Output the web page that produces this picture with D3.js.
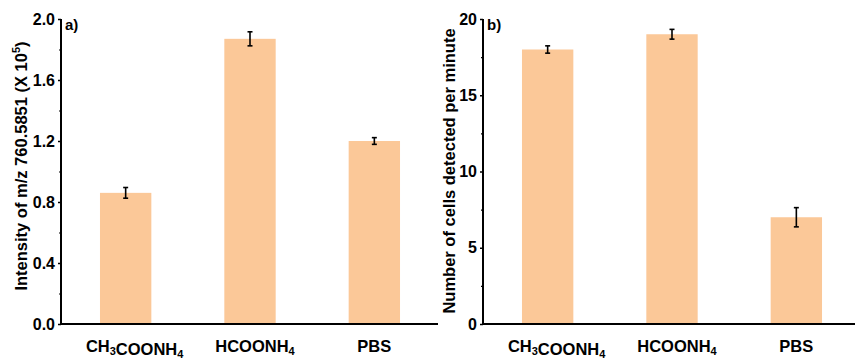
<!DOCTYPE html>
<html>
<head>
<meta charset="utf-8">
<script src="https://cdn.jsdelivr.net/npm/d3@7"></script>
<style>
  html, body { margin: 0; padding: 0; background: #fff; }
  svg { display: block; font-family: "Liberation Sans", Arial, sans-serif; }
</style>
</head>
<body>
<svg id="chart" width="855" height="359"></svg>
<script>
// ---- data ----
const categories = ["CH3COONH4", "HCOONH4", "PBS"];
const intensityValues = [0.86, 1.87, 1.20];
const intensityErrors = [0.035, 0.046, 0.022];
const cellValues = [18.0, 19.0, 7.0];
const cellErrors = [0.24, 0.32, 0.63];
const intensityTicks = [0.0, 0.4, 0.8, 1.2, 1.6, 2.0];
const intensityMinorTicks = [0.2, 0.6, 1.0, 1.4, 1.8];
const cellTicks = [0, 5, 10, 15, 20];
const cellMinorTicks = [2.5, 7.5, 12.5, 17.5];

const svg = d3.select("#chart");
const barColor = "#FBC898";
const plotTop = 19, plotBottom = 324;
const labelShift = [9, 5, 0];

function label(sel, name) {
  // write chemical names with subscripts
  const parts = name.match(/[A-Za-z]+|\d+/g);
  parts.forEach(p => {
    if (/^\d+$/.test(p)) {
      sel.append("tspan").attr("font-size", 11).attr("dy", 3).text(p);
      sel.append("tspan").attr("dy", -3).text("");
    } else {
      sel.append("tspan").text(p);
    }
  });
}

function panel(cfg) {
  const g = svg.append("g");
  const y = d3.scaleLinear().domain(cfg.domain).range([plotBottom, plotTop]);
  const x = d3.scaleBand().domain(categories)
    .range([cfg.x0, cfg.x0 + 378])
    .paddingInner(0.587).paddingOuter(0.3135);

  // bars
  g.selectAll("rect.bar").data(cfg.values).join("rect")
    .attr("class", "bar")
    .attr("x", (d, i) => x(categories[i]))
    .attr("width", x.bandwidth())
    .attr("y", d => y(d))
    .attr("height", d => y(0) - y(d))
    .attr("fill", barColor);

  // error bars
  const eb = g.selectAll("g.err").data(cfg.values).join("g").attr("class", "err");
  eb.each(function(d, i) {
    const cx = x(categories[i]) + x.bandwidth() / 2;
    const e = cfg.errors[i];
    const s = d3.select(this);
    s.append("line").attr("x1", cx).attr("x2", cx).attr("y1", y(d - e)).attr("y2", y(d + e))
      .attr("stroke", "#000").attr("stroke-width", 1.6);
    [d - e, d + e].forEach(v => {
      s.append("line").attr("x1", cx - 2.5).attr("x2", cx + 2.5).attr("y1", y(v)).attr("y2", y(v))
        .attr("stroke", "#000").attr("stroke-width", 1.6);
    });
  });

  // y axis
  const ax = g.append("g").attr("transform", `translate(${cfg.x0},0)`)
    .call(d3.axisLeft(y).tickValues(cfg.ticks).tickSize(3).tickPadding(3).tickFormat(cfg.fmt));
  ax.select(".domain").remove();
  ax.selectAll(".tick line").attr("stroke", "#000").attr("stroke-width", 1.5);
  ax.selectAll(".tick text").attr("font-size", 16).attr("font-weight", "bold")
    .attr("fill", "#000").attr("font-family", "Liberation Sans, Arial, sans-serif");
  const mn = g.append("g").attr("transform", `translate(${cfg.x0},0)`)
    .call(d3.axisLeft(y).tickValues(cfg.minor).tickSize(2).tickFormat(""));
  mn.select(".domain").remove();
  mn.selectAll(".tick line").attr("stroke", "#000").attr("stroke-width", 1.2);

  g.append("line").attr("x1", cfg.x0).attr("x2", cfg.x0).attr("y1", plotTop).attr("y2", plotBottom + 1)
    .attr("stroke", "#000").attr("stroke-width", 2);
  g.append("line").attr("x1", cfg.x0 - 1).attr("x2", cfg.xEnd).attr("y1", plotBottom).attr("y2", plotBottom)
    .attr("stroke", "#000").attr("stroke-width", 2);

  // category labels
  categories.forEach((c, i) => {
    const t = g.append("text")
      .attr("x", x(c) + x.bandwidth() / 2 + labelShift[i]).attr("y", 352)
      .attr("text-anchor", "middle").attr("font-size", 16.5).attr("font-weight", "bold");
    label(t, c);
  });

  // panel label
  g.append("text").attr("x", cfg.x0 + 4).attr("y", 30)
    .attr("font-size", 15).attr("font-weight", "bold").text(cfg.tag);

  // y title
  const tt = g.append("text")
    .attr("transform", `translate(${cfg.titleX},${cfg.titleY}) rotate(-90)`)
    .attr("text-anchor", "middle").attr("font-size", 16.5).attr("font-weight", "bold");
  cfg.title(tt);
}

panel({
  x0: 61, xEnd: 438, domain: [0, 2.0],
  values: intensityValues, errors: intensityErrors,
  ticks: intensityTicks, minor: intensityMinorTicks,
  fmt: d3.format(".1f"), tag: "a)", titleX: 27, titleY: 166,
  title: t => {
    t.append("tspan").text("Intensity of m/z 760.5851 (X 10");
    t.append("tspan").attr("font-size", 11).attr("dy", -7).text("5");
    t.append("tspan").attr("dy", 7).text(")");
  }
});

panel({
  x0: 483, xEnd: 855, domain: [0, 20],
  values: cellValues, errors: cellErrors,
  ticks: cellTicks, minor: cellMinorTicks,
  fmt: d3.format("d"), tag: "b)", titleX: 455, titleY: 171,
  title: t => t.text("Number of cells detected per minute")
});
</script>
</body>
</html>
